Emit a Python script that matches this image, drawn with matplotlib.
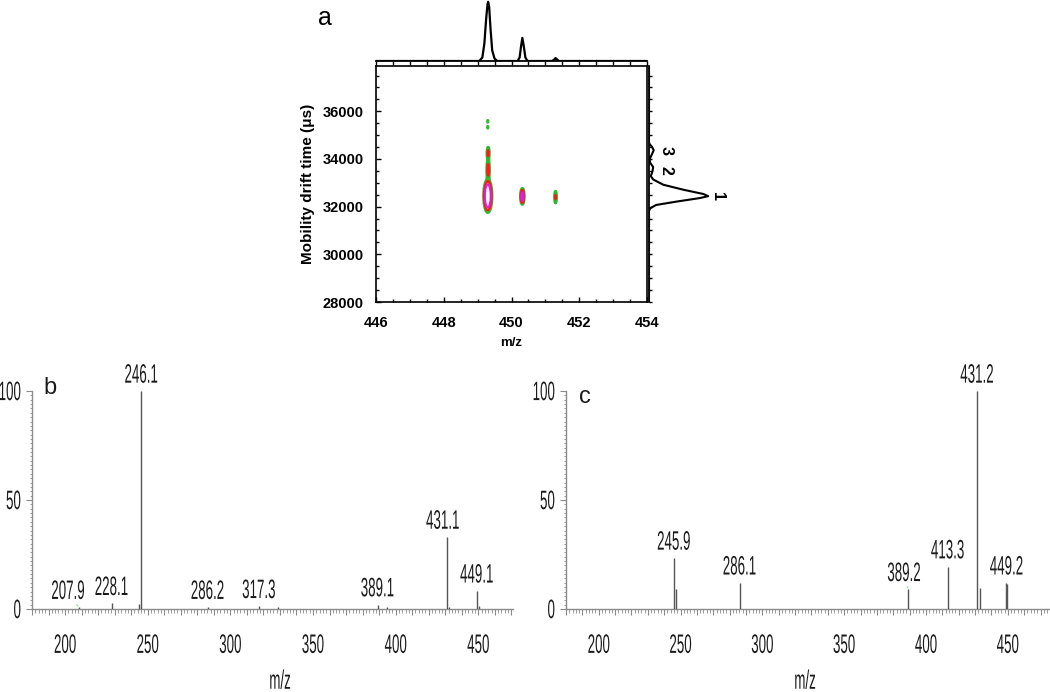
import numpy as np
import matplotlib
matplotlib.use("Agg")
import matplotlib.pyplot as plt
from matplotlib import patheffects
from matplotlib.transforms import Affine2D
from matplotlib.ticker import MultipleLocator

# ---------------- data ----------------
# Panel a: 2D mobility map spots (m/z, drift time in us, relative intensity, widths)
spot_mz = [449.30, 449.31, 449.31, 449.30, 449.30, 450.32, 451.30]
spot_dt = [32450, 33550, 34250, 35580, 35330, 32430, 32400]
spot_amp = [100, 12, 10, 4.5, 4.5, 40, 9]
spot_sig_mz = [0.048, 0.026, 0.024, 0.010, 0.010, 0.026, 0.022]
spot_sig_dt = [265, 250, 160, 50, 50, 150, 170]
contour_levels = [3, 8, 20]

# Panel a: top marginal (m/z profile)
top_mz = [446.0, 449.05, 449.14, 449.20, 449.25, 449.29, 449.31, 449.34, 449.38, 449.43,
          449.50, 449.58, 450.18, 450.24, 450.28, 450.32, 450.36, 450.41, 450.47,
          451.20, 451.27, 451.30, 451.34, 451.40, 454.0]
top_int = [0, 0, 6, 30, 70, 95, 100, 92, 55, 18,
           4, 0, 0, 6, 24, 39, 26, 6, 0,
           0, 3, 5, 3, 0, 0]

# Panel a: right marginal (drift time profile)
rt_dt = [37900, 34700, 34620, 34510, 34370, 34200, 33990, 33840, 33660, 33490, 33280,
         33140, 32920, 32710, 32530, 32440, 32360, 32210, 32070, 31930, 31820, 28000]
rt_int = [0, 0, 1, 5, 8, 5, 1, 2, 7, 6, 3,
          7, 24, 58, 92, 100, 86, 46, 12, 2, 0, 0]
rt_labels = ["1", "2", "3"]
rt_label_dt = [32440, 33660, 34370]
rt_label_int = [100, 7, 8]

# Panel b: MS/MS spectrum
b_mz = [208.5, 228.1, 244.5, 246.1, 286.2, 317.3, 329.0, 389.1, 395.0, 431.1, 432.5, 449.1, 450.2]
b_int = [0.8, 2.6, 2.5, 100, 0.8, 1.2, 0.8, 2.0, 0.8, 33, 1.0, 8.3, 1.5]
b_labels = ["207.9", "228.1", "246.1", "286.2", "317.3", "389.1", "431.1", "449.1"]
b_label_mz = [208.5, 228.1, 246.1, 286.2, 317.3, 389.1, 431.1, 449.1]
b_label_int = [0.8, 2.6, 100, 0.8, 1.2, 2.0, 33, 8.3]

# Panel c: MS/MS spectrum
c_mz = [245.9, 247.0, 286.1, 389.2, 413.3, 431.2, 432.8, 449.2, 449.7]
c_int = [23.4, 9, 12, 9, 19.4, 100, 9.8, 12, 11.5]
c_labels = ["245.9", "286.1", "389.2", "413.3", "431.2", "449.2"]
c_label_mz = [245.9, 286.1, 389.2, 413.3, 431.2, 449.2]
c_label_int = [23.4, 12, 9, 19.4, 100, 12]

spec_ticks = list(range(180, 471, 10))
spec_tick_labels = [str(t) if t % 50 == 0 else "" for t in spec_ticks]
spec_yticks = [0, 50, 100]


# ---------------- helpers ----------------
class Tall(patheffects.AbstractPathEffect):
    """Stretch glyphs vertically (mimics the tall condensed face of the original)."""
    def __init__(self, sy=2.0, anchor="baseline"):
        super().__init__()
        self.sy = sy
        self.anchor = anchor

    def draw_path(self, renderer, gc, tpath, affine, rgbFace=None):
        v = tpath.vertices
        if self.anchor == "center" and len(v):
            y0 = 0.5 * (v[:, 1].min() + v[:, 1].max())
        else:
            y0 = 0.0
        t = Affine2D().translate(0, -y0).scale(1, self.sy).translate(0, y0) + affine
        renderer.draw_path(gc, tpath, t, rgbFace)


W, H = 1050, 692


def frac(l, t, r, b):
    return [l / W, 1 - b / H, (r - l) / W, (b - t) / H]


SANS = ["Liberation Sans", "DejaVu Sans"]
TXT = "#1a1a1a"
SPINE = "#8a8a8a"
STICK = "#555555"
FS = 9.6     # base size of spectrum text
SY = 2.0     # vertical stretch of spectrum text

fig = plt.figure(figsize=(10.5, 6.92), dpi=100)

# ---------------- panel a ----------------
ax = fig.add_axes(frac(376, 66, 647, 302))
mzg = np.linspace(446, 454, 1600)
dtg = np.linspace(28000, 37900, 1400)
MZ, DT = np.meshgrid(mzg, dtg)
Z = np.zeros_like(MZ)
for m, d, a, sm, sd in zip(spot_mz, spot_dt, spot_amp, spot_sig_mz, spot_sig_dt):
    Z += a * np.exp(-0.5 * (((MZ - m) / sm) ** 2 + ((DT - d) / sd) ** 2))
ax.contour(MZ, DT, Z, levels=contour_levels,
           colors=["#2fb82f", "#ff1a1a", "#e01ee0"], linewidths=[1.9, 1.7, 1.5])
ax.set_xlim(446, 454)
ax.set_ylim(28000, 37900)
ax.xaxis.set_major_locator(MultipleLocator(2))
ax.xaxis.set_minor_locator(MultipleLocator(0.5))
ax.yaxis.set_major_locator(MultipleLocator(2000))
ax.yaxis.set_minor_locator(MultipleLocator(500))
ax.tick_params(which="both", direction="in", top=False, right=False, width=1.0)
ax.tick_params(which="major", length=3.5)
ax.tick_params(which="minor", length=2.2)
ax.tick_params(axis="y", pad=9)
ax.tick_params(axis="x", pad=10)
for lab in ax.get_xticklabels() + ax.get_yticklabels():
    lab.set_fontfamily(SANS)
    lab.set_fontweight("bold")
    lab.set_fontsize(10.5)
for s in ax.spines.values():
    s.set_linewidth(1.2)
fig.text(308 / W, 1 - 184 / H, "Mobility drift time (\u03bcs)", rotation=90,
         ha="center", va="center", fontsize=11, fontweight="bold", family=SANS)
fig.text(511 / W, 1 - 343 / H, "m/z", ha="center", va="center",
         fontsize=9.5, fontweight="bold", family=SANS)

# top marginal
axt = fig.add_axes(frac(376, 0, 647, 61))
axt.plot(top_mz, top_int, color="black", lw=1.6)
axt.set_xlim(446, 454)
axt.set_ylim(0, 103)
for k in ["top", "left", "right"]:
    axt.spines[k].set_visible(False)
axt.spines["bottom"].set_linewidth(1.3)
axt.xaxis.set_major_locator(MultipleLocator(0.5))
axt.tick_params(axis="x", direction="out", length=3, width=1.0, labelbottom=False)
axt.set_yticks([])
axt.patch.set_alpha(0)

# right marginal
axr = fig.add_axes(frac(649, 66, 720, 302))
axr.plot(rt_int, rt_dt, color="black", lw=1.5)
axr.set_ylim(28000, 37900)
axr.set_xlim(0, 120)
for k in ["top", "bottom", "right"]:
    axr.spines[k].set_visible(False)
axr.spines["left"].set_linewidth(1.3)
axr.yaxis.set_major_locator(MultipleLocator(500))
axr.tick_params(axis="y", direction="in", length=2.5, width=1.0, labelleft=False)
axr.set_xticks([])
axr.patch.set_alpha(0)
rt_offsets = [(7, 0), (9.5, -2.5), (9, 0)]
for lab, d, i, off in zip(rt_labels, rt_label_dt, rt_label_int, rt_offsets):
    axr.annotate(lab, xy=(i, d), xytext=off, textcoords="offset points",
                 rotation=-90, ha="center", va="center", fontsize=11.5,
                 fontweight="bold", family=SANS, annotation_clip=False)

fig.text(325 / W, 1 - 25 / H, "a", ha="center", va="baseline", fontsize=18, family=SANS)


# ---------------- spectra ----------------
def spectrum(rect, xlim, mz, inten, labels, lab_mz, lab_int, dx, leader, letter, letter_xy, xlab_x):
    a = fig.add_axes(frac(*rect))
    a.vlines(mz, 0, inten, color=STICK, lw=1.0)
    a.set_xlim(*xlim)
    a.set_ylim(0, 100)
    for k in ["top", "right"]:
        a.spines[k].set_visible(False)
    for k in ["left", "bottom"]:
        a.spines[k].set_color(SPINE)
        a.spines[k].set_linewidth(1.0)
    a.spines["bottom"].set_zorder(0.5)
    a.set_xticks(spec_ticks, spec_tick_labels, fontsize=FS, family=SANS, color=TXT,
                 path_effects=[Tall(SY, "center")])
    a.xaxis.set_minor_locator(MultipleLocator(2))
    a.set_yticks(spec_yticks, [str(v) for v in spec_yticks], fontsize=FS, family=SANS,
                 color=TXT, path_effects=[Tall(SY, "center")])
    a.yaxis.set_minor_locator(MultipleLocator(2))
    a.tick_params(axis="x", which="major", direction="out", length=4.3, width=0.8,
                  color=SPINE, pad=17.5)
    a.tick_params(axis="x", which="minor", direction="out", length=2.6, width=0.6, color=SPINE)
    a.tick_params(axis="y", which="major", direction="out", length=4, width=0.8,
                  color=SPINE, pad=4)
    a.tick_params(axis="y", which="minor", direction="out", length=1.8, width=0.6, color=SPINE)
    for lab, m, i, d, ld in zip(labels, lab_mz, lab_int, dx, leader):
        kw = {}
        if ld:
            kw["arrowprops"] = dict(arrowstyle="-", color="#8fd88f", lw=0.8,
                                    shrinkA=0, shrinkB=1)
        a.annotate(lab, xy=(m, i), xytext=(d, 6), textcoords="offset points",
                   ha="center", va="baseline", fontsize=FS, family=SANS, color=TXT,
                   path_effects=[Tall(SY, "baseline")], annotation_clip=False, **kw)
    fig.text(letter_xy[0] / W, 1 - letter_xy[1] / H, letter, ha="center", va="baseline",
             fontsize=17, family=SANS, color=TXT)
    fig.text(xlab_x / W, 1 - 681 / H, "m/z", ha="center", va="center", fontsize=FS,
             family=SANS, color=TXT, path_effects=[Tall(SY, "center")])
    return a


spectrum((32, 391, 513, 609), (180, 471), b_mz, b_int, b_labels, b_label_mz, b_label_int,
         [-8, 0, 0, 0, 0, 0, -3, 0], [True, False, False, False, False, False, False, False],
         "b", (50, 394), 280)
spectrum((566, 391, 1050, 609), (180, 475.8), c_mz, c_int, c_labels, c_label_mz, c_label_int,
         [0, 0, -3, 0, 0, 0], [False, False, True, False, False, False],
         "c", (585, 403), 805)

fig.savefig("out.png", dpi=100)
